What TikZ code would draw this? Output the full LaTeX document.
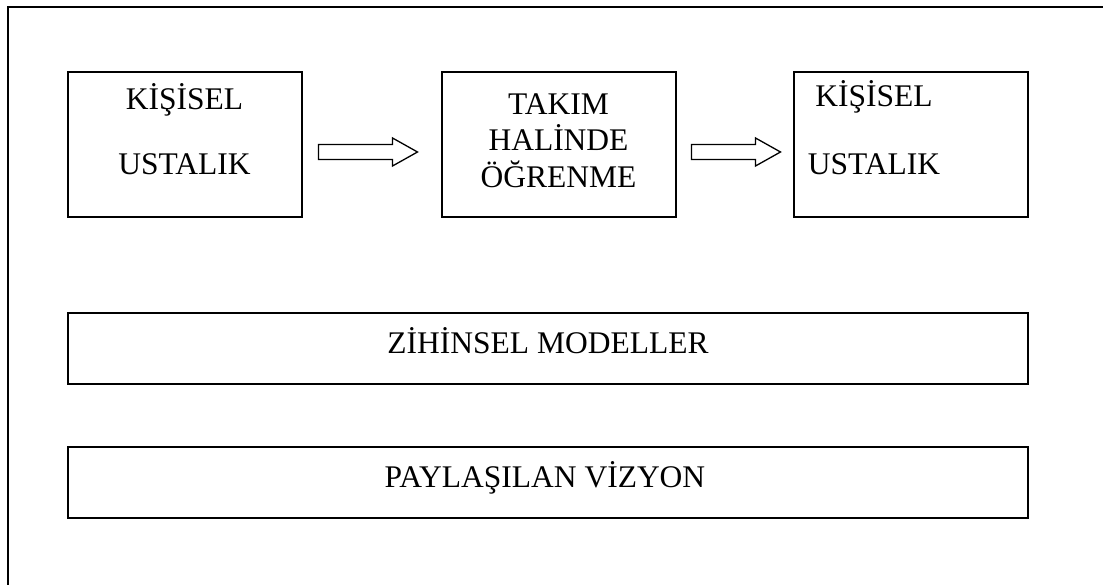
\documentclass[tikz,border=0pt]{standalone}
\usepackage{fontspec}
\setmainfont{Liberation Serif}
\usetikzlibrary{calc}
\begin{document}
\begin{tikzpicture}[x=1pt,y=-1pt,
  frame/.style={draw, line width=2pt},
  stage/.style={draw, line width=2pt, minimum width=234pt, minimum height=145pt, inner sep=0pt},
  band/.style={draw, line width=2pt, minimum width=960pt, minimum height=71pt, inner sep=0pt},
  caption/.style={anchor=base, inner sep=0pt, font=\fontsize{31.5}{36}\selectfont},
  blockarrow/.style={draw, line width=1.3pt, line join=miter, fill=white}]
  \path[use as bounding box] (0,0) rectangle (1103,585);
  \clip (0,0) rectangle (1103,585);
  % outer frame, running off the right and bottom edges
  \draw[frame] (8,7) rectangle (1130,610);

  % top row of stages
  \node[stage] (b1) at (184.5,144.5) {};
  \node[stage] (b2) at (558.5,145) {};
  \node[stage] (b3) at (910.5,145) {};

  \node[caption] (t1a) at ($(b1.center)+(0,-34.5)$) {KİŞİSEL};
  \node[caption] (t1b) at ($(b1.center)+(0,30.5)$) {USTALIK};

  \node[caption] (t2a) at ($(b2.center)+(0,-30)$) {TAKIM};
  \node[caption] (t2b) at ($(b2.center)+(0,5.5)$) {HALİNDE};
  \node[caption] (t2c) at ($(b2.center)+(0,43)$) {ÖĞRENME};

  \node[caption] (t3a) at ($(b3.center)+(-36.5,-38)$) {KİŞİSEL};
  \node[caption] (t3b) at ($(b3.center)+(-36.5,30)$) {USTALIK};

  % hollow block arrows between the stages
  \coordinate (a1s) at ($(b1.east)+(16,7.5)$);
  \coordinate (a1t) at ($(b2.west)+(-23,7)$);
  \coordinate (a2s) at ($(b2.east)+(15,7)$);
  \coordinate (a2t) at ($(b3.west)+(-12,7)$);
  \foreach \s/\t in {a1s/a1t, a2s/a2t}{
    \draw[blockarrow] let \p1=(\s), \p2=(\t) in
      (\x1,\y1+7.5) -- (\x2-25,\y1+7.5) -- (\x2-25,\y1+14) -- (\x2,\y1)
      -- (\x2-25,\y1-14) -- (\x2-25,\y1-7.5) -- (\x1,\y1-7.5) -- cycle;
  }

  % the two wide bands
  \node[band] (m) at (548,348.5) {};
  \node[caption] (tm) at ($(m.center)+(0,4.5)$) {ZİHİNSEL MODELLER};
  \node[band] (p) at (548,482.5) {};
  \node[caption] (tp) at ($(p.center)+(-3,4.5)$) {PAYLAŞILAN VİZYON};
\end{tikzpicture}
\end{document}
